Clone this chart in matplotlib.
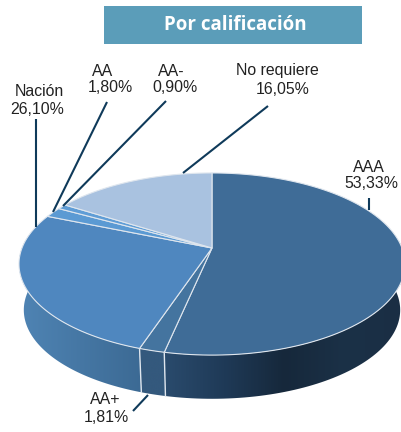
import numpy as np
from matplotlib import pyplot as plt
from matplotlib.colors import LinearSegmentedColormap
from matplotlib.patches import Polygon, Rectangle

# ___DATA___ #
categories = ["AAA", "AA+", "Nación", "AA", "AA-", "No requiere"]
shares = [53.33, 1.81, 26.10, 1.80, 0.90, 16.05]
shareLabels = ["53,33%", "1,81%", "26,10%", "1,80%", "0,90%", "16,05%"]
topColors = ["#3f6c97", "#44749f", "#4f87bf", "#5b9ad3", "#5f9dd6", "#a9c2e0"]
# left to right along each visible side wall
sideColors = [["#2a4b6d", "#1f3a57", "#16283b", "#1b3147", "#1a2e44"],
              ["#34597d", "#34597d"],
              ["#4f84b4", "#3c6a94"]]
titleText = "Por calificación"

# ___GEOMETRY___ #
# The pie is a flat disc seen in perspective, so the centre sits above the ellipse middle.
centerX, centerY = 212, 248
radius = 190
persp = 0.176
tiltY = -44.6
# the lower rim is the upper one, a bit smaller and pushed down
rimScale = 0.975
rimMiddleY = 263
rimDrop = 46


def topRim(theta):
    denom = 1 + persp * np.sin(theta)
    x = centerX + radius * np.cos(theta) / denom
    y = (tiltY * np.sin(theta) + centerY) / denom
    return x, y


def lowerRim(theta):
    x, y = topRim(theta)
    return centerX + (x - centerX) * rimScale, rimMiddleY + (y - rimMiddleY) * rimScale + rimDrop


fig = plt.figure(figsize=(4.02, 4.32), dpi=100)
ax = fig.add_axes([0, 0, 1, 1])
ax.axis("off")

# ___SLICES___ #
# clockwise from 12 o'clock
edges = np.radians(90 - 360 * np.cumsum([0] + shares) / sum(shares))
edgeLine = "#dfe6ee"

# Side wall first, only the front slices (AAA, AA+, Nación) are visible.
for i, colors in enumerate(sideColors):
    start = edges[i]
    end = edges[i + 1]
    if i == 0:
        start = np.radians(5)
    if i == 2:
        end = np.radians(-185)
    theta = np.linspace(start, end, 80)
    xTop, yTop = topRim(theta)
    xLow, yLow = lowerRim(theta)
    points = np.column_stack([np.r_[xTop, xLow[::-1]], np.r_[yTop, yLow[::-1]]])
    poly = Polygon(points, closed=True, facecolor="none", edgecolor="none")
    ax.add_patch(poly)
    # the walls run right to left with theta, the gradient is read left to right
    cmap = LinearSegmentedColormap.from_list("side" + str(i), colors)
    left, right = points[:, 0].min(), points[:, 0].max()
    img = ax.imshow(np.linspace(0, 1, 256).reshape(1, -1), cmap=cmap, aspect="auto",
                    extent=[left, right, points[:, 1].max(), points[:, 1].min()], zorder=1)
    img.set_clip_path(poly)
    if i < 2:
        ax.plot([xTop[-1], xLow[-1]], [yTop[-1], yLow[-1]], color=edgeLine, lw=1.0, zorder=2)

ax.set_xlim(0, 402)
ax.set_ylim(432, 0)

for i in range(len(shares)):
    theta = np.linspace(edges[i], edges[i + 1], 120)
    xRim, yRim = topRim(theta)
    points = np.column_stack([np.r_[centerX, xRim], np.r_[centerY, yRim]])
    ax.add_patch(Polygon(points, closed=True, facecolor=topColors[i], edgecolor=edgeLine, lw=0.8, zorder=3))

# ___LEADER LINES___ #
leaderStart = [(369, 198), (133, 411), (36, 119), (107, 102), (166, 101), (268, 106)]
leaderEnd = [(369, 210), (148, 395), (36, 227), (53, 212), (63, 206), (183, 173)]
for (x0, y0), (x1, y1) in zip(leaderStart, leaderEnd):
    ax.plot([x0, x1], [y0, y1], color="#0f3a5a", lw=1.5, zorder=4, solid_capstyle="butt")

# ___LABELS___ #
namePos = [(369, 167), (105, 400), (39, 91), (103, 72), (171, 71), (277, 71)]
sharePos = [(371, 184), (106, 417), (37, 109), (110, 88), (175, 88), (283, 90)]
labelFont = dict(family="Liberation Sans", fontsize=11.4, color="#222222", ha="center", va="center")
for name, share, p1, p2 in zip(categories, shareLabels, namePos, sharePos):
    ax.text(p1[0], p1[1], name, zorder=5, **labelFont)
    ax.text(p2[0], p2[1], share, zorder=5, **labelFont)

# ___TITLE___ #
ax.add_patch(Rectangle((104, 6), 258, 38, facecolor="#5b9db9", edgecolor="none", zorder=4))
ax.text(235.5, 25, titleText, family="Open Sans", fontweight="bold", fontsize=13.5, color="white",
        ha="center", va="center", zorder=5)

fig.savefig("out.png", dpi=100)
